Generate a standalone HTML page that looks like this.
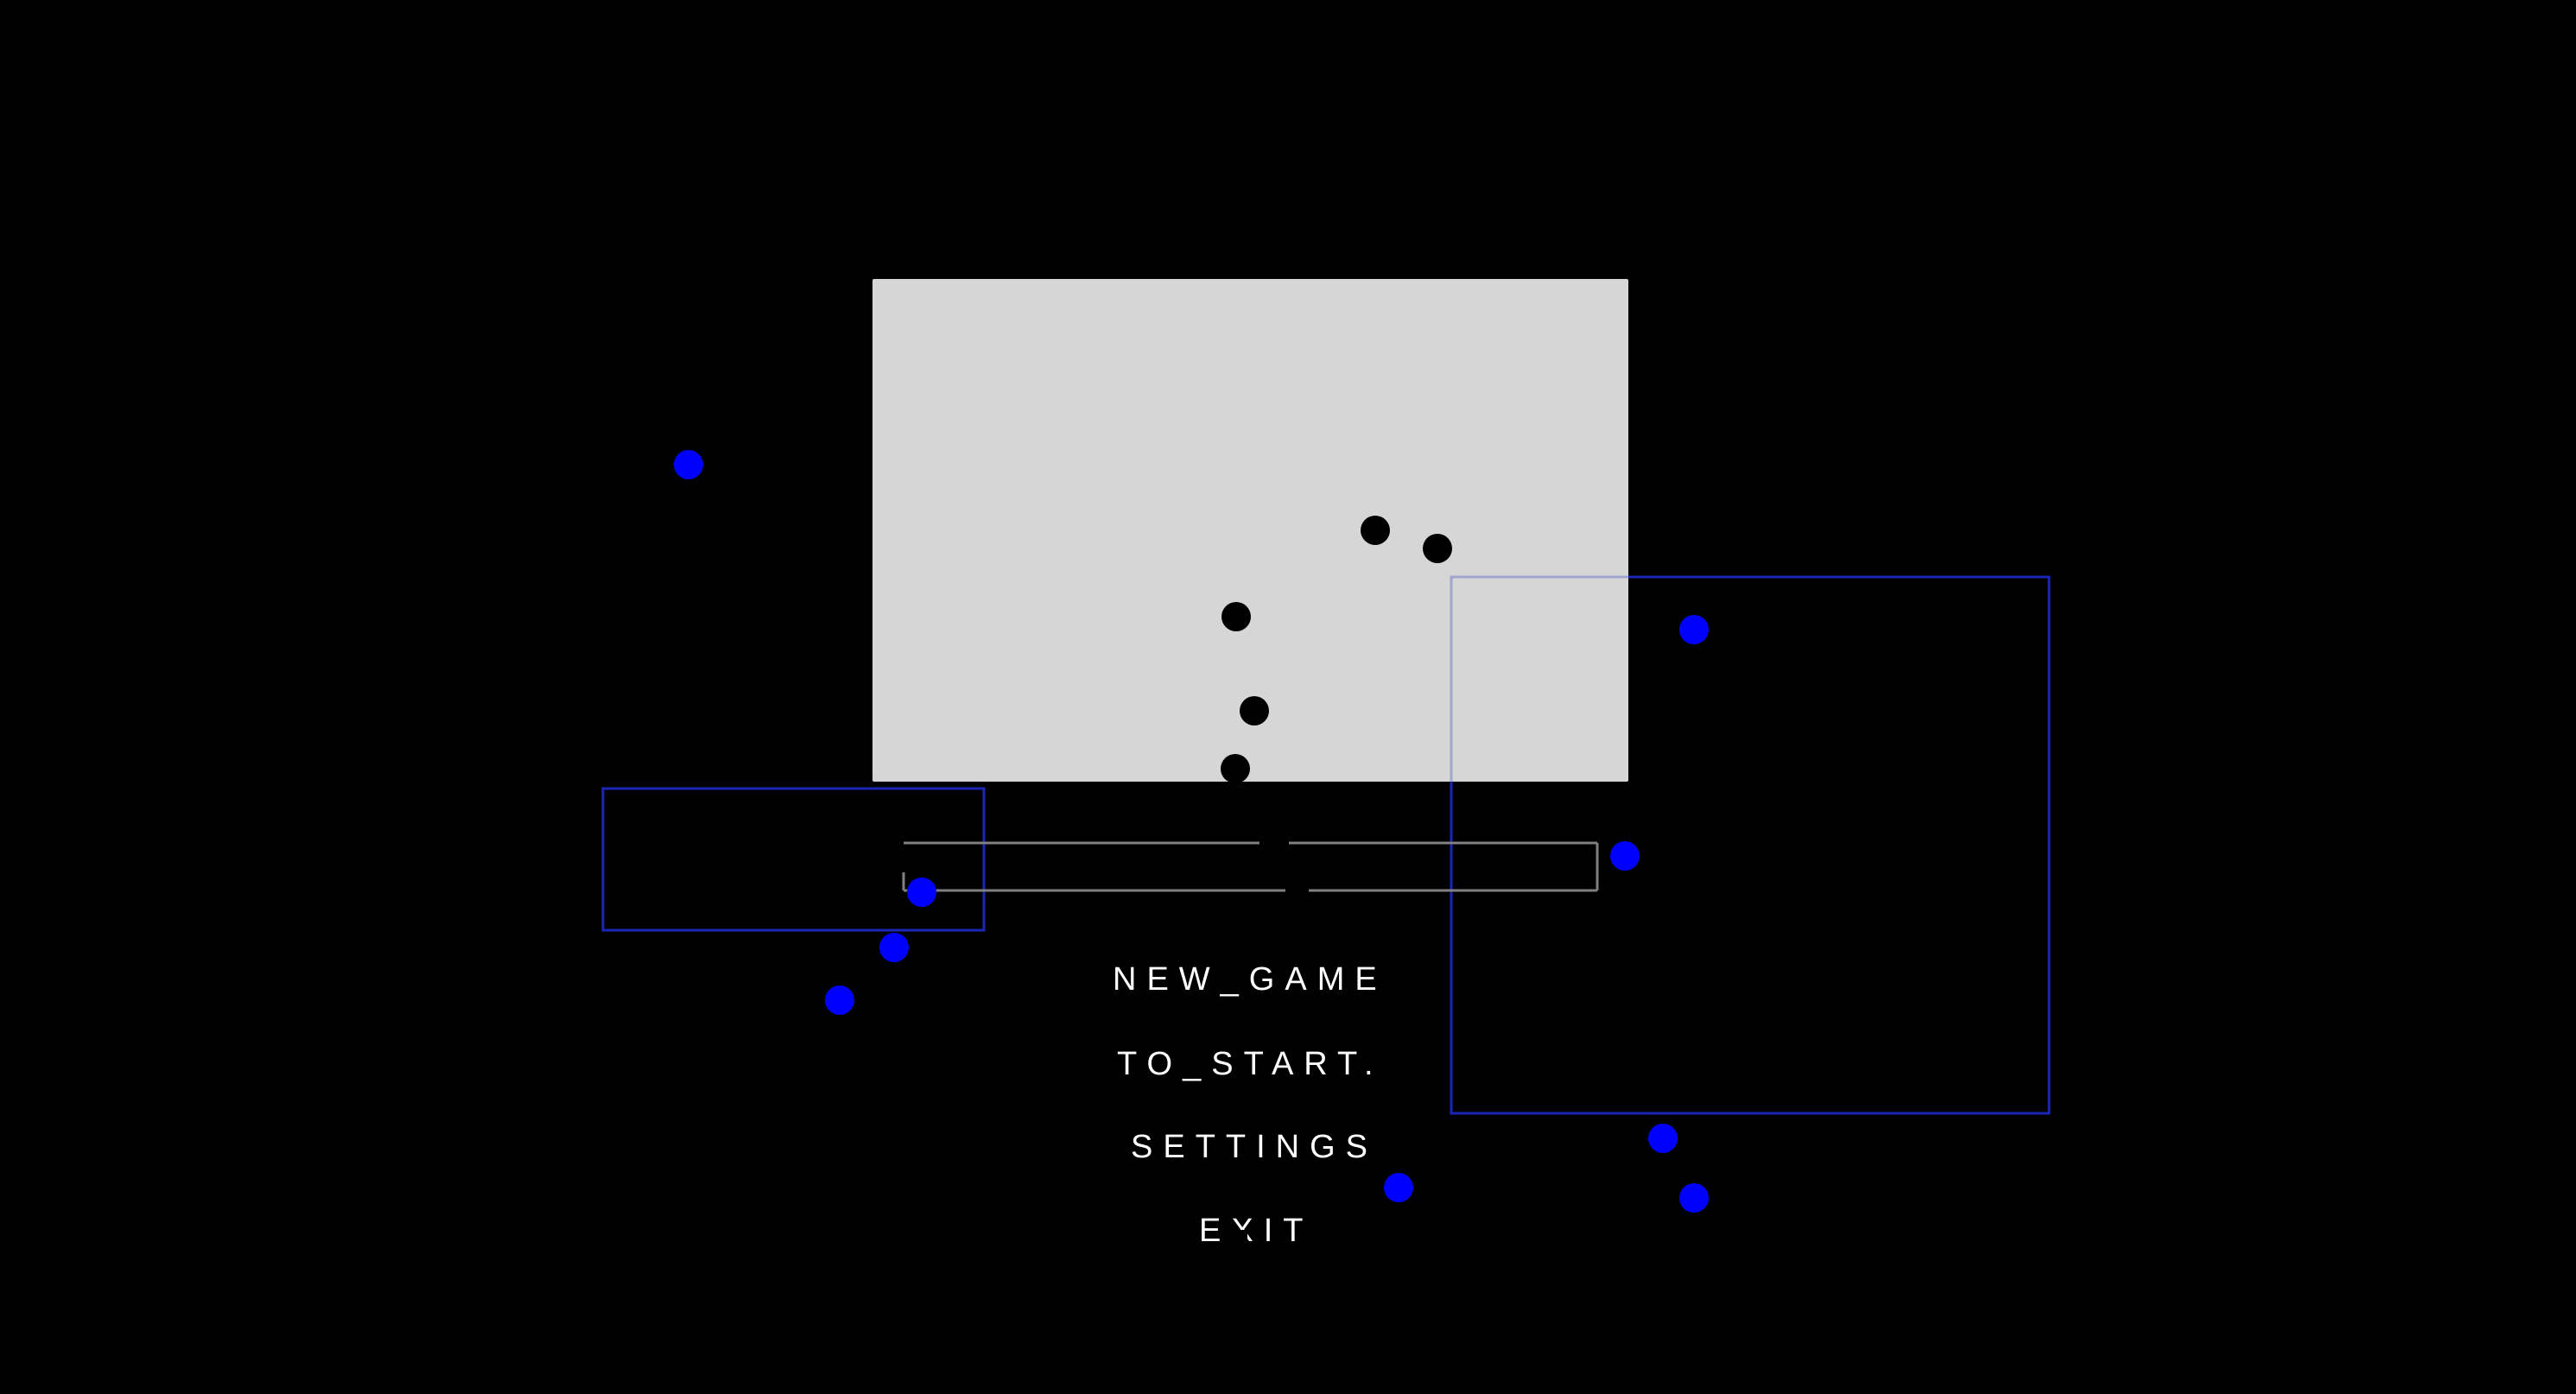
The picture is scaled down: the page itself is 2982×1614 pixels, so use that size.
<!DOCTYPE html>
<html><head><meta charset="utf-8"><style>
html,body{margin:0;padding:0;background:#000;width:2982px;height:1614px;overflow:hidden}
svg{display:block}
text{font-family:"Liberation Sans",sans-serif;font-size:38px;fill:#fff;letter-spacing:12px}
</style></head><body>
<svg width="2982" height="1614" viewBox="0 0 2982 1614" xmlns="http://www.w3.org/2000/svg">
<rect x="0" y="0" width="2982" height="1614" fill="#000"/>
<!-- right blue rect -->
<rect x="1680" y="668" width="692" height="621" fill="none" stroke="#1a26b8" stroke-width="3"/>
<!-- grey panel -->
<rect x="1010" y="323" width="875" height="582" rx="2" fill="#d6d6d6"/>
<rect x="1680" y="668" width="692" height="621" fill="none" stroke="#1a26b8" stroke-width="3" opacity="0.28"/>
<!-- black dots -->
<g fill="#000">
<circle cx="1592" cy="614" r="17"/>
<circle cx="1664" cy="635" r="17"/>
<circle cx="1431" cy="714" r="17"/>
<circle cx="1452" cy="823" r="17"/>
<circle cx="1430" cy="890" r="17"/>
</g>
<!-- left blue rect -->
<rect x="698" y="913" width="441" height="164" fill="none" stroke="#1a26b8" stroke-width="3"/>
<!-- grey bar -->
<g stroke="#808080" stroke-width="3" fill="none">
<line x1="1046" y1="976" x2="1458" y2="976"/>
<line x1="1492" y1="976" x2="1849" y2="976"/>
<line x1="1849" y1="976" x2="1849" y2="1031"/>
<line x1="1046" y1="1031" x2="1488" y2="1031"/>
<line x1="1515" y1="1031" x2="1849" y2="1031"/>
<line x1="1046" y1="1010" x2="1046" y2="1031"/>
</g>
<!-- blue dots -->
<g fill="#0000ff">
<circle cx="797" cy="538" r="17"/>
<circle cx="1961" cy="729" r="17"/>
<circle cx="1881" cy="991" r="17"/>
<circle cx="1067" cy="1033" r="17"/>
<circle cx="1035" cy="1097" r="17"/>
<circle cx="972" cy="1158" r="17"/>
<circle cx="1925" cy="1318" r="17"/>
<circle cx="1619" cy="1375" r="17"/>
<circle cx="1961" cy="1387" r="17"/>
</g>
<!-- menu -->
<text x="1288" y="1146">NEW_GAME</text>
<text x="1293" y="1244">TO_START.</text>
<text x="1309" y="1340">SETTINGS</text>
<text x="1388" y="1437">EXIT</text>
<rect x="1416" y="1424" width="28" height="16" fill="#000"/>
</svg>
</body></html>
